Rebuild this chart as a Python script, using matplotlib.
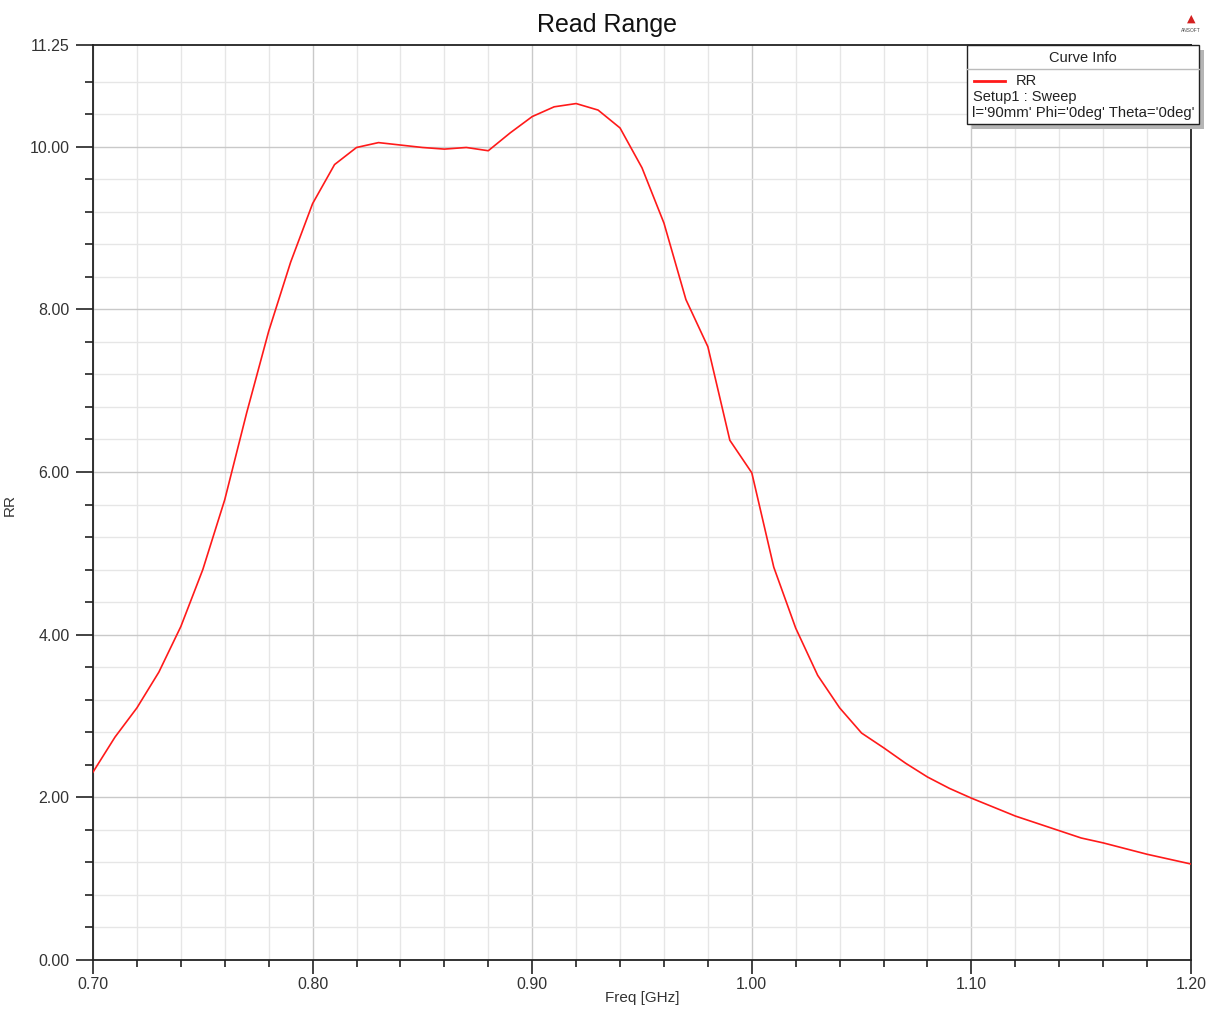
import numpy as np
import matplotlib
matplotlib.use("Agg")
import matplotlib.pyplot as plt
from matplotlib.patches import Rectangle
from matplotlib.lines import Line2D

plt.rcParams['font.family'] = ['Liberation Sans', 'DejaVu Sans']

# Data
freq_ghz = [0.70, 0.71, 0.72, 0.73, 0.74, 0.75, 0.76, 0.77, 0.78, 0.79,
            0.80, 0.81, 0.82, 0.83, 0.84, 0.85, 0.86, 0.87, 0.88, 0.89,
            0.90, 0.91, 0.92, 0.93, 0.94, 0.95, 0.96, 0.97, 0.98, 0.99,
            1.00, 1.01, 1.02, 1.03, 1.04, 1.05, 1.06, 1.07, 1.08, 1.09,
            1.10, 1.11, 1.12, 1.13, 1.14, 1.15, 1.16, 1.17, 1.18, 1.19, 1.20]
rr_values = [2.31, 2.74, 3.10, 3.54, 4.10, 4.80, 5.66, 6.73, 7.73, 8.58,
             9.30, 9.78, 9.99, 10.05, 10.02, 9.99, 9.97, 9.99, 9.95, 10.17,
             10.37, 10.49, 10.53, 10.45, 10.23, 9.74, 9.06, 8.12, 7.54, 6.39,
             5.99, 4.83, 4.08, 3.50, 3.10, 2.79, 2.61, 2.42, 2.25, 2.11,
             1.99, 1.88, 1.77, 1.68, 1.59, 1.50, 1.44, 1.37, 1.30, 1.24, 1.18]
x_ticks = [0.70, 0.80, 0.90, 1.00, 1.10, 1.20]
x_tick_labels = ["0.70", "0.80", "0.90", "1.00", "1.10", "1.20"]
y_ticks = [0.0, 2.0, 4.0, 6.0, 8.0, 10.0, 11.25]
y_tick_labels = ["0.00", "2.00", "4.00", "6.00", "8.00", "10.00", "11.25"]
title = "Read Range"
x_label = "Freq [GHz]"
y_label = "RR"
legend_header = "Curve Info"
legend_name = "RR"
legend_line2 = "Setup1 : Sweep"
legend_line3 = "l='90mm' Phi='0deg' Theta='0deg'"

W, H = 1206, 1010
fig = plt.figure(figsize=(W / 100, H / 100), dpi=100)
fig.patch.set_facecolor('white')

def fx(px):
    return px / W

def fy(py):
    return 1 - py / H

ax = fig.add_axes([fx(93), fy(960), fx(1191) - fx(93), fy(45) - fy(960)])
ax.set_xlim(0.70, 1.20)
ax.set_ylim(0, 11.25)

# grids
for xv in np.arange(0.70, 1.2001, 0.02):
    major = abs(round(xv * 10) - xv * 10) < 1e-6
    ax.axvline(xv, color='#c9c9c9' if major else '#e6e6e6', lw=1.0, zorder=0)
for yv in np.arange(0, 11.2, 0.4):
    major = abs(round(yv / 2) - yv / 2) < 1e-6
    ax.axhline(yv, color='#c9c9c9' if major else '#e6e6e6', lw=1.0, zorder=0)

ax.plot(freq_ghz, rr_values, color='#ff1a1a', lw=1.2, zorder=3)

ax.set_xticks(x_ticks)
ax.set_xticklabels(x_tick_labels)
ax.set_xticks(np.arange(0.72, 1.2, 0.02), minor=True)
ax.set_yticks(y_ticks)
ax.set_yticklabels(y_tick_labels)
ax.set_yticks([v for v in np.arange(0.4, 11.2, 0.4) if abs(v / 2 - round(v / 2)) > 1e-6], minor=True)

ax.tick_params(axis='x', which='major', length=10, width=1.2, direction='out', pad=2,
               labelsize=11.5, labelcolor='#333333', color='#222222')
ax.tick_params(axis='x', which='minor', length=5, width=1.2, direction='out', color='#222222')
ax.tick_params(axis='y', which='major', length=12, width=1.2, direction='out', pad=5,
               labelsize=11.5, labelcolor='#333333', color='#222222')
ax.tick_params(axis='y', which='minor', length=5.5, width=1.2, direction='out', color='#222222')

for side in ['left', 'bottom', 'top', 'right']:
    ax.spines[side].set_color('#222222')
    ax.spines[side].set_linewidth(1.3)

ax.set_xlabel(x_label, fontsize=11, color='#333333')
ax.set_ylabel(y_label, fontsize=11, color='#333333')
ax.xaxis.set_label_coords(0.5, -0.034)
ax.yaxis.set_label_coords((17 - 93) / (1191 - 93), 0.497)

fig.text(fx(607), fy(25), title, ha='center', va='center', fontsize=18, color='#111111')

# legend box (Curve Info)
lx0, ly0, lx1, ly1 = 967, 45, 1199, 124
shadow = Rectangle((fx(lx0 + 5), fy(ly1 + 5)), fx(lx1 - lx0), fy(ly0) - fy(ly1),
                   transform=fig.transFigure, facecolor='#b5b5b5', edgecolor='none', zorder=5)
box = Rectangle((fx(lx0), fy(ly1)), fx(lx1 - lx0), fy(ly0) - fy(ly1),
                transform=fig.transFigure, facecolor='white', edgecolor='#222222', lw=1.0, zorder=6)
fig.add_artist(shadow)
fig.add_artist(box)
fig.add_artist(Line2D([fx(lx0), fx(lx1)], [fy(69), fy(69)], transform=fig.transFigure,
                      color='#bbbbbb', lw=1.0, zorder=7))
fig.text(fx(1083), fy(58), legend_header, ha='center', va='center', fontsize=10.5, color='#222222', zorder=8)
fig.add_artist(Line2D([fx(974), fx(1005)], [fy(81), fy(81)], transform=fig.transFigure,
                      color='#ff1a1a', lw=2.0, zorder=8))
fig.text(fx(1016), fy(81), legend_name, ha='left', va='center', fontsize=10.5, color='#222222', zorder=8)
fig.text(fx(973), fy(97), legend_line2, ha='left', va='center', fontsize=10.5, color='#222222', zorder=8)
fig.text(fx(972), fy(113), legend_line3, ha='left', va='center', fontsize=10.7, color='#222222', zorder=8)

# small logo mark
fig.text(fx(1191), fy(19), "\u25B2", ha='center', va='center', fontsize=8, color='#d42020',
         family=['DejaVu Sans'])
fig.text(fx(1191), fy(31), "ANSOFT", ha='center', va='center', fontsize=3.5, color='#444444')

fig.savefig("out.png", dpi=100)
